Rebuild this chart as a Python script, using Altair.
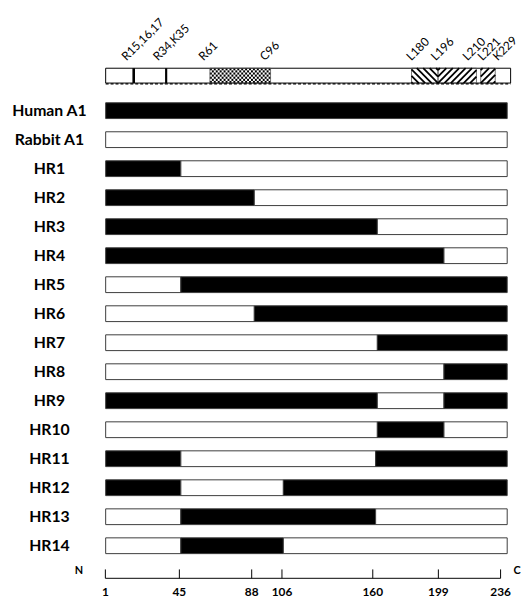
import altair as alt
import pandas as pd

# ---------------- data ----------------
constructs = ["Human A1", "Rabbit A1", "HR1", "HR2", "HR3", "HR4", "HR5", "HR6",
              "HR7", "HR8", "HR9", "HR10", "HR11", "HR12", "HR13", "HR14"]
# residue boundaries of the alternating segments of each construct
breaks = [
    [1, 236], [1, 236],
    [1, 45, 236], [1, 88, 236], [1, 160, 236], [1, 199, 236],
    [1, 45, 236], [1, 88, 236], [1, 160, 236], [1, 199, 236],
    [1, 160, 199, 236], [1, 160, 199, 236],
    [1, 45, 159, 236], [1, 45, 105, 236],
    [1, 45, 159, 236], [1, 45, 105, 236],
]
# origin of the first (N-terminal) segment; segments alternate afterwards
first_origin = ["Human", "Rabbit", "Human", "Human", "Human", "Human",
                "Rabbit", "Rabbit", "Rabbit", "Rabbit", "Human", "Rabbit",
                "Human", "Human", "Rabbit", "Rabbit"]

axis_ticks = [1, 45, 88, 106, 160, 199, 236]

# top domain map (residue positions)
domain_start, domain_end = 1, 238
marker_lines = [17.4, 36.4]
marker_widths = [2.6, 2.2]
checker_region = [62, 97.5]
back_hatch_regions = [[180, 195.5]]
fwd_hatch_regions = [[195.5, 218], [220.5, 229]]
site_labels = ["R15,16,17", "R34,K35", "R61", "C96", "L180", "L196", "L210", "L221", "K229"]
site_label_pos = [13.2, 31.6, 58.2, 94.1, 179.8, 194.2, 212.8, 221.6, 230.4]

# ---------------- tables ----------------
seg_rows = []
for i, (name, b, o) in enumerate(zip(constructs, breaks, first_origin)):
    cur = o
    for s, e in zip(b[:-1], b[1:]):
        seg_rows.append({"construct": name, "row": i, "start": s, "end": e, "origin": cur})
        cur = "Rabbit" if cur == "Human" else "Human"
segs = pd.DataFrame(seg_rows)
labels_df = pd.DataFrame({"construct": constructs, "row": list(range(len(constructs)))})

BAR_TOP, BAR_BOT = -1.463, -0.952   # domain bar vertical extent (row units)
HALF = 0.272                         # half height of a construct bar (row units)

# hatching / checker decoration derived from the region bounds
def hatch(a, b, kind, anchor, s=3.75, w=8.66):
    out = []
    for k in range(-30, 30):
        c = anchor + k * s if kind == "fwd" else anchor - w + k * s
        xa, xb = max(a, c), min(b, c + w)
        if xb - xa <= 0.05:
            continue
        def yy(x):
            t = (x - c) / w
            return BAR_BOT + t * (BAR_TOP - BAR_BOT) if kind == "fwd" else BAR_TOP + t * (BAR_BOT - BAR_TOP)
        out.append({"x1": xa, "x2": xb, "y1": yy(xa), "y2": yy(xb)})
    return out

hatch_rows = []
for a, b in back_hatch_regions:
    hatch_rows += hatch(a, b, "back", b)
for a, b in fwd_hatch_regions:
    hatch_rows += hatch(a, b, "fwd", a)
hatch_df = pd.DataFrame(hatch_rows)

ncol, nrow = 31, 7
cw = (checker_region[1] - checker_region[0]) / ncol
ch = (BAR_BOT - BAR_TOP) / nrow
cells = []
for cx in range(ncol):
    for cy in range(nrow):
        if (cx + cy) % 2 == 0:
            cells.append({"x1": checker_region[0] + cx * cw, "x2": checker_region[0] + (cx + 1) * cw,
                          "y1": BAR_TOP + cy * ch, "y2": BAR_TOP + (cy + 1) * ch})
cells_df = pd.DataFrame(cells)

regions_df = pd.DataFrame(
    [{"a": checker_region[0], "b": checker_region[1]}]
    + [{"a": a, "b": b} for a, b in back_hatch_regions + fwd_hatch_regions])
markers_df = pd.DataFrame({"pos": marker_lines, "w": marker_widths})
sites_df = pd.DataFrame({"label": site_labels, "pos": site_label_pos})
ticks_df = pd.DataFrame({"tick": axis_ticks, "label": [str(t) for t in axis_ticks]})
ends_df = pd.DataFrame({"label": ["N", "C"], "px": [-27, 417]})

# ---------------- scales ----------------
xs = alt.Scale(domain=[1, 236], nice=False, zero=False)
ys = alt.Scale(domain=[-2.5, 15.5], reverse=True, nice=False, zero=False)
X = lambda f: alt.X(f, type="quantitative", scale=xs, axis=None)
Y = lambda f: alt.Y(f, type="quantitative", scale=ys, axis=None)

FONT = "Lato"

bars = alt.Chart(segs).transform_calculate(
    y0=f"datum.row - {HALF}", y1=f"datum.row + {HALF}"
).mark_rect(stroke="#3c3c3c", strokeWidth=1).encode(
    x=X("start"), x2="end", y=Y("y0"), y2="y1",
    fill=alt.Fill("origin:N", scale=alt.Scale(domain=["Human", "Rabbit"], range=["#000000", "#ffffff"]),
                  legend=None),
)

row_labels = alt.Chart(labels_df).mark_text(
    font=FONT, fontWeight="bold", fontSize=16, align="center", baseline="middle", color="black"
).encode(x=alt.value(-57), y=Y("row"), text="construct:N")

dom_base = alt.Chart(pd.DataFrame({"a": [domain_start], "b": [domain_end]})).mark_rect(
    fill="white", stroke="black", strokeWidth=1
).encode(x=X("a"), x2="b", y=alt.datum(BAR_TOP, scale=ys, axis=None), y2=alt.datum(BAR_BOT))

checker = alt.Chart(cells_df).mark_rect(fill="black", strokeWidth=0).encode(
    x=X("x1"), x2="x2", y=Y("y1"), y2="y2")

region_box = alt.Chart(regions_df).mark_rect(fill=None, stroke="#555555", strokeWidth=0.8).encode(
    x=X("a"), x2="b", y=alt.datum(BAR_TOP, scale=ys, axis=None), y2=alt.datum(BAR_BOT))

hatches = alt.Chart(hatch_df).mark_rule(color="black", strokeWidth=1.8).encode(
    x=X("x1"), x2="x2", y=Y("y1"), y2="y2")

markers = alt.Chart(markers_df).mark_rule(color="black").encode(
    x=X("pos"), y=alt.datum(BAR_TOP, scale=ys, axis=None), y2=alt.datum(BAR_BOT),
    strokeWidth=alt.StrokeWidth("w:Q", scale=None))

dashed_bottom = alt.Chart(pd.DataFrame({"a": [domain_start], "b": [domain_end]})).mark_rule(
    color="black", strokeWidth=1.3, strokeDash=[3, 2]
).encode(x=X("a"), x2="b", y=alt.datum(BAR_BOT + 0.03, scale=ys, axis=None))

sites = alt.Chart(sites_df).mark_text(
    font=FONT, fontSize=12, angle=315, align="left", baseline="alphabetic", color="black"
).encode(x=X("pos"), y=alt.value(23.5), text="label:N")

main = alt.layer(bars, row_labels, dom_base, checker, region_box, hatches, markers,
                 dashed_bottom, sites)

# bottom residue axis (drawn on its own linear scale, as in the figure)
axs = alt.Scale(domain=[1, 236], range=[-0.3, 400.3], nice=False, zero=False)
axis_line = alt.Chart(pd.DataFrame({"a": [1], "b": [236]})).mark_rule(color="black", strokeWidth=1).encode(
    x=alt.X("a:Q", scale=axs, axis=None), x2="b", y=alt.value(547.5))
axis_ticks_m = alt.Chart(ticks_df).mark_rule(color="black", strokeWidth=1).encode(
    x=alt.X("tick:Q", scale=axs, axis=None), y=alt.value(538.5), y2=alt.value(547.5))
axis_labels = alt.Chart(ticks_df).mark_text(
    font=FONT, fontWeight="bold", fontSize=12, baseline="top", align="center", color="black"
).encode(x=alt.X("tick:Q", scale=axs, axis=None), y=alt.value(556.5), text="label:N")
ends = alt.Chart(ends_df).mark_text(
    font=FONT, fontWeight="bold", fontSize=11, baseline="middle", align="center", color="black"
).encode(x=alt.X("px:Q", scale=None, axis=None), y=alt.value(540.5), text="label:N")

axis_layer = alt.layer(axis_line, axis_ticks_m, axis_labels, ends)

chart = alt.layer(main, axis_layer).resolve_scale(x="independent").properties(
    width=407, height=529.2,
    padding={"left": 99, "top": 26.5, "right": 15, "bottom": 42},
    autosize="none",
).configure_view(stroke=None)

chart.save("out.html", embed_options={"renderer": "svg", "actions": False})
